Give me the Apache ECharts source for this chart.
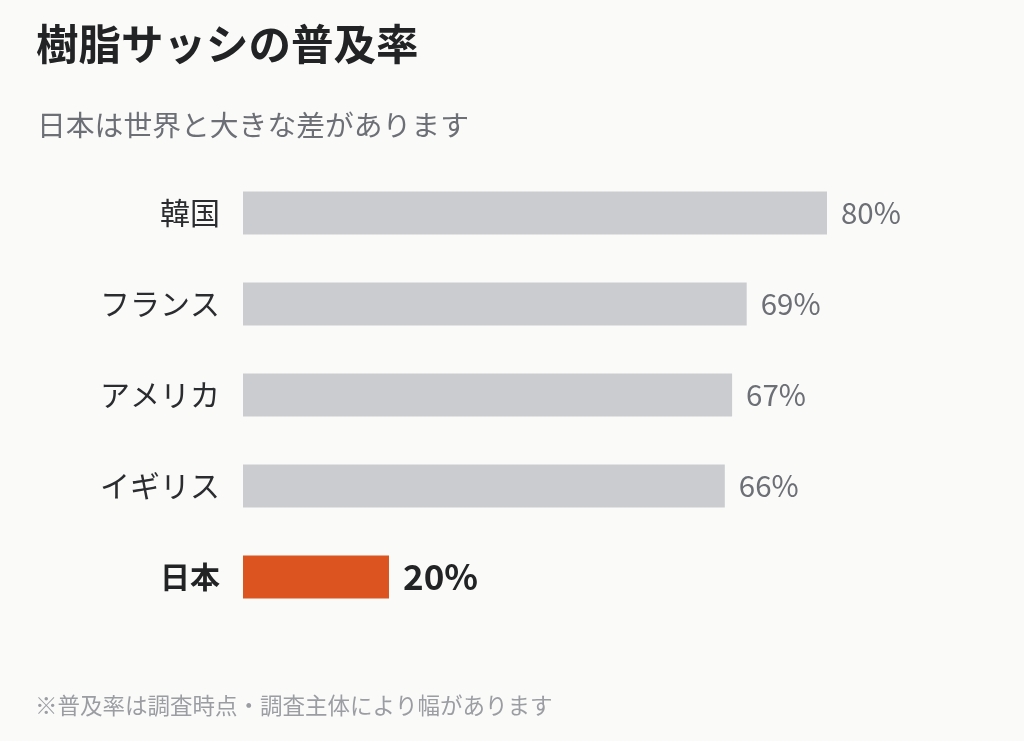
<!DOCTYPE html>
<html><head><meta charset="utf-8">
<script src="https://cdn.jsdelivr.net/npm/echarts@6/dist/echarts.min.js"></script>
<style>html,body{margin:0;padding:0;background:#fafaf8;}#c{width:1024px;height:741px;}</style>
</head><body><div id="c"></div>
<script>
const categories = ['韓国','フランス','アメリカ','イギリス','日本'];
const values = [80, 69, 67, 66, 20];
const highlight = '日本';
const FONT = '"Noto Sans CJK JP", "Noto Sans", sans-serif';

const chart = echarts.init(document.getElementById('c'));
chart.setOption({
  backgroundColor: '#fafaf8',
  animation: false,
  title: [
    {text: '樹脂サッシの普及率', left: 31, top: 18, textStyle: {fontFamily: FONT, fontSize: 42.5, fontWeight: 'bold', color: '#222325'}},
    {text: '日本は世界と大きな差があります', left: 32, top: 106, textStyle: {fontFamily: FONT, fontSize: 28.8, fontWeight: 'normal', color: '#6c6f76'}},
    {text: '※普及率は調査時点・調査主体により幅があります', left: 30, top: 689, textStyle: {fontFamily: FONT, fontSize: 22.5, fontWeight: 'normal', color: '#9b9da3'}}
  ],
  grid: {left: 243, top: 167.5, width: 730, height: 455, containLabel: false},
  xAxis: {type: 'value', min: 0, max: 100, show: false},
  yAxis: {
    type: 'category', inverse: true, data: categories,
    axisLine: {show: false}, axisTick: {show: false}, splitLine: {show: false},
    axisLabel: {
      margin: 23, fontFamily: FONT, fontSize: 30,
      formatter: v => v === highlight ? '{h|' + v + '}' : '{n|' + v + '}',
      rich: {
        n: {fontFamily: FONT, fontSize: 30, color: '#2b2c2f'},
        h: {fontFamily: FONT, fontSize: 30, color: '#222325', fontWeight: 'bold'}
      }
    }
  },
  series: [{
    type: 'bar', barWidth: 43,
    data: categories.map((c, i) => ({
      value: values[i],
      itemStyle: {color: c === highlight ? '#dc5521' : '#cbccd0'},
      label: c === highlight
        ? {fontWeight: 'bold', color: '#222325', fontSize: 35}
        : {}
    })),
    label: {
      show: true, position: 'right', distance: 14,
      formatter: '{c}%', fontFamily: FONT, fontSize: 29.5, color: '#6c6f76'
    }
  }]
});
</script></body></html>
